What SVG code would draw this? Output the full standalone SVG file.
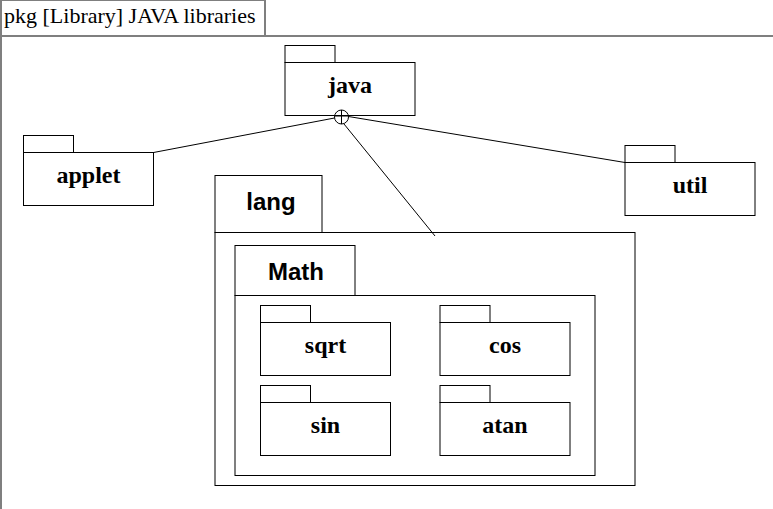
<svg xmlns="http://www.w3.org/2000/svg" width="773" height="509" viewBox="0 0 773 509">
<style>
.box{fill:#fff;stroke:#000;stroke-width:1}
.frame{fill:none;stroke:#7f7f7f;stroke-width:2}
.ser{font-family:"Liberation Serif","Times New Roman",serif;font-weight:bold;font-size:24px;text-anchor:middle;fill:#000}
.san{font-family:"Liberation Sans",Arial,sans-serif;font-weight:bold;font-size:24px;text-anchor:middle;fill:#000}
.conn{stroke:#000;stroke-width:1;fill:none}
</style>
<rect width="773" height="509" fill="#fff"/>
<g id="frame">
<rect class="frame" x="1" y="0" width="264" height="36"/>
<line class="frame" x1="1" y1="36" x2="773" y2="36"/>
<line class="frame" x1="1" y1="0" x2="1" y2="509"/>
<text x="4" y="23" style="font-family:'Liberation Serif','Times New Roman',serif;font-size:22px;fill:#000">pkg [Library] JAVA libraries</text>
</g>
<g id="java">
<rect class="box" x="285" y="45.5" width="50" height="17"/>
<rect class="box" x="285" y="62.5" width="130" height="53"/>
<text class="ser" x="350" y="93">java</text>
</g>
<g id="applet">
<rect class="box" x="23.5" y="135.5" width="50" height="17"/>
<rect class="box" x="23.5" y="152.5" width="130" height="53"/>
<text class="ser" x="88.5" y="183">applet</text>
</g>
<g id="util">
<rect class="box" x="625" y="145.5" width="50" height="17"/>
<rect class="box" x="625" y="162.5" width="130" height="53"/>
<text class="ser" x="690" y="193">util</text>
</g>
<g id="lang">
<rect class="box" x="215" y="175.5" width="107" height="57"/>
<rect class="box" x="215" y="232.5" width="420" height="253"/>
<text class="san" x="271" y="210">lang</text>
</g>
<g id="Math">
<rect class="box" x="235" y="245.5" width="120" height="50"/>
<rect class="box" x="235" y="295.5" width="360" height="180"/>
<text class="san" x="296" y="280">Math</text>
</g>
<g id="sqrt">
<rect class="box" x="260.5" y="305.5" width="50" height="17"/>
<rect class="box" x="260.5" y="322.5" width="130" height="53"/>
<text class="ser" x="325.5" y="353">sqrt</text>
</g>
<g id="cos">
<rect class="box" x="440" y="305.5" width="50" height="17"/>
<rect class="box" x="440" y="322.5" width="130" height="53"/>
<text class="ser" x="505" y="353">cos</text>
</g>
<g id="sin">
<rect class="box" x="260.5" y="385.5" width="50" height="17"/>
<rect class="box" x="260.5" y="402.5" width="130" height="53"/>
<text class="ser" x="325.5" y="433">sin</text>
</g>
<g id="atan">
<rect class="box" x="440" y="385.5" width="50" height="17"/>
<rect class="box" x="440" y="402.5" width="130" height="53"/>
<text class="ser" x="505" y="433">atan</text>
</g>
<g id="connectors">
<line class="conn" x1="153.5" y1="152.5" x2="334.5" y2="118"/>
<line class="conn" x1="348.5" y1="116.5" x2="625" y2="162.5"/>
<line class="conn" x1="344" y1="124" x2="435" y2="236"/>
<circle class="conn" cx="341.5" cy="117" r="7"/>
<line class="conn" x1="341.5" y1="110" x2="341.5" y2="124"/>
<line class="conn" x1="334.5" y1="116" x2="348.5" y2="116"/>
</g>
</svg>
